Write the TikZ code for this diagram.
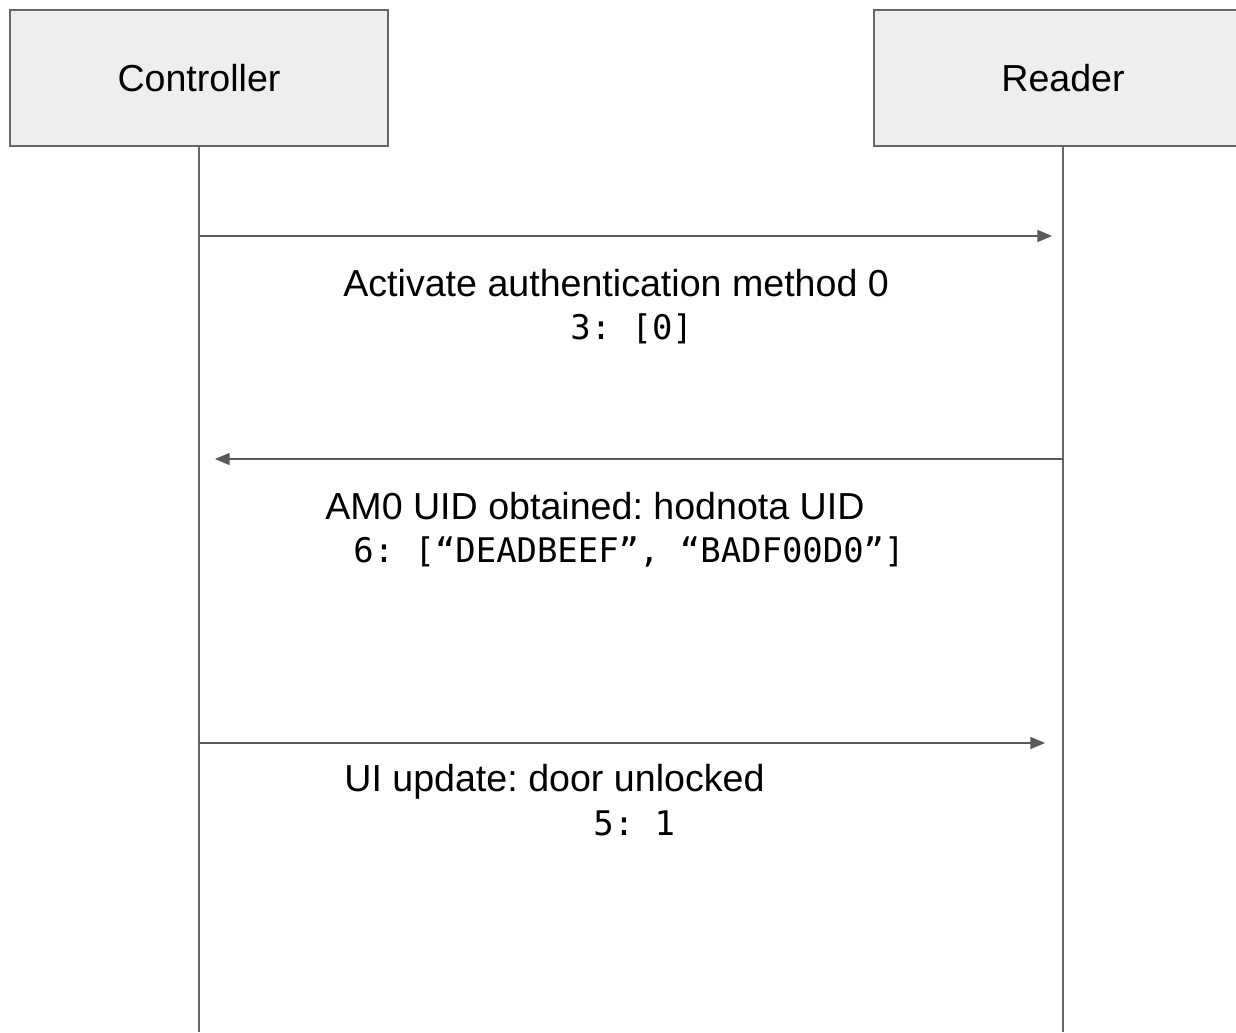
\documentclass[tikz,border=0pt]{standalone}
\usepackage{fontspec}
\setmainfont{Liberation Sans}
\newfontfamily\codefont{DejaVu Sans Mono}
\usetikzlibrary{arrows}
\frenchspacing

\definecolor{boxfill}{HTML}{EEEEEE}
\definecolor{boxline}{HTML}{666666}
\definecolor{msgline}{HTML}{595959}

\begin{document}
\begin{tikzpicture}[x=0.02cm,y=-0.02cm,>=triangle 45]
			\tikzstyle{party} = [rectangle,fill=boxfill,draw=boxline,line width=1.1pt,minimum width=7.56cm,minimum height=2.72cm,font=\fontsize{21.4}{25}\selectfont];
			\tikzstyle{msg} = [anchor=base west,inner sep=0pt,font=\fontsize{21.4}{25}\selectfont];
			\tikzstyle{code} = [anchor=base west,inner sep=0pt,font=\codefont\fontsize{19.3}{23}\selectfont];
			\tikzstyle{life} = [draw=boxline,line width=0.9pt];
			\tikzstyle{call} = [draw=msgline,line width=0.9pt];
			\useasboundingbox (0,0) rectangle (1236,1032);
			% the two parties and their lifelines
			\node[party] (ctrl) at (199,78) {Controller};
			\node[party] (rdr) at (1063,78) {Reader};
			\coordinate (ctrlend) at (199,1032);
			\coordinate (rdrend) at (1063,1032);
			\draw[life] (ctrl) -- (ctrlend);
			\draw[life] (rdr) -- (rdrend);
			% messages
			\coordinate (ctrl1) at (199,236);
			\coordinate (rdr1) at (1052,236);
			\coordinate (rdr2) at (1063,459);
			\coordinate (ctrl2) at (215,459);
			\coordinate (ctrl3) at (199,743);
			\coordinate (rdr3) at (1045,743);
			\draw[->,call] (ctrl1) -- (rdr1);
			\draw[->,call] (rdr2) -- (ctrl2);
			\draw[->,call] (ctrl3) -- (rdr3);
			\node[msg] (m1) at (343,296) {Activate authentication method 0};
			\node[code] (c1) at (570,339) {3: [0]};
			\node[msg] (m2) at (325,519) {AM0 UID obtained: hodnota UID};
			\node[code] (c2) at (353,562) {6: [“DEADBEEF”, “BADF00D0”]};
			\node[msg] (m3) at (344,791) {UI update: door unlocked};
			\node[code] (c3) at (593,835) {5: 1};
		\end{tikzpicture}
\end{document}
